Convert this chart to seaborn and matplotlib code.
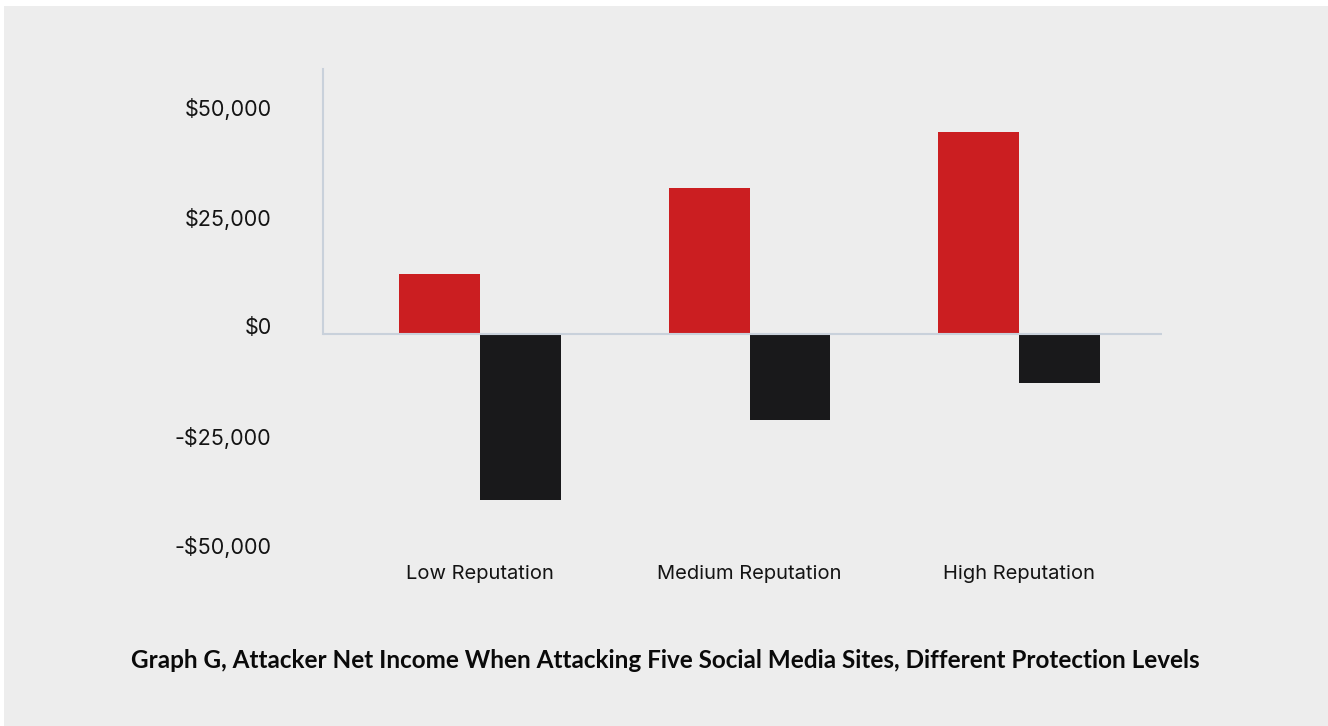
import matplotlib
matplotlib.use("Agg")
import matplotlib.pyplot as plt
import matplotlib.transforms as mtransforms
import seaborn as sns
import pandas as pd

categories = ["Low Reputation", "Medium Reputation", "High Reputation"]
series_names = ["Low Protection", "High Protection"]
income_low_protection = [13700, 33300, 46200]
income_high_protection = [-38000, -19600, -11300]
ytick_values = [-50000, -25000, 0, 25000, 50000]
ytick_labels = ["-$50,000", "-$25,000", "$0", "$25,000", "$50,000"]
title = "Graph G, Attacker Net Income When Attacking Five Social Media Sites, Different Protection Levels"

df = pd.DataFrame({
    "category": categories * 2,
    "series": [series_names[0]] * 3 + [series_names[1]] * 3,
    "value": income_low_protection + income_high_protection,
})

sns.set_theme(style="white")
plt.rcParams["font.family"] = ["Inter", "DejaVu Sans"]

BG = "#EDEDED"
AX = "#C9D1DB"
W, H, DPI = 13.28, 7.26, 100
fig = plt.figure(figsize=(W, H), dpi=DPI, facecolor="white")
fig.patches.append(plt.Rectangle((4 / 1328, 0), 1 - 4 / 1328, 1 - 6 / 726,
                                 transform=fig.transFigure, facecolor=BG,
                                 edgecolor="none", zorder=-10))

ax_left, ax_right = 323 / 1328, 1162 / 1328
ax_top = 1 - 69 / 726
ax_bottom = 1 - 562 / 726
ax = fig.add_axes([ax_left, ax_bottom, ax_right - ax_left, ax_top - ax_bottom])
ax.set_facecolor("none")
ax.set_zorder(5)

sns.barplot(data=df, x="category", y="value", hue="series", order=categories,
            hue_order=series_names, palette=["#CB1E21", "#19191B"],
            saturation=1, width=0.6, dodge=True, legend=False, ax=ax,
            errorbar=None, linewidth=0, edgecolor="none")

ytop = (334 - 69) / 109.5 * 25000
ybot = -(562 - 334) / 109.5 * 25000
ax.set_ylim(ybot, ytop)
ax.set_xlim(-0.583, 2.531)

for s in ["top", "right", "bottom"]:
    ax.spines[s].set_visible(False)
ax.spines["left"].set_color(AX)
ax.spines["left"].set_linewidth(1.5)
ax.spines["left"].set_bounds(0, ytop)
ax.axhline(0, color=AX, lw=1.5, zorder=5)

ax.set_yticks(ytick_values)
ax.set_yticklabels(ytick_labels)
ax.tick_params(axis="y", length=0, pad=37, labelsize=15.5, labelcolor="#141414")
ax.tick_params(axis="x", length=0, pad=2, labelsize=14.5, labelcolor="#141414")
offset = mtransforms.ScaledTranslation(0, 8 / DPI, fig.dpi_scale_trans)
for lab in ax.get_yticklabels():
    lab.set_transform(lab.get_transform() + offset)
ax.set_xlabel("")
ax.set_ylabel("")

fig.text(665 / 1328, 1 - 661 / 726, title, ha="center", va="center",
         fontsize=17.5, fontweight="bold", color="#0A0A0A",
         family=["Lato", "DejaVu Sans"])

fig.savefig("out.png", dpi=DPI, facecolor="white")
